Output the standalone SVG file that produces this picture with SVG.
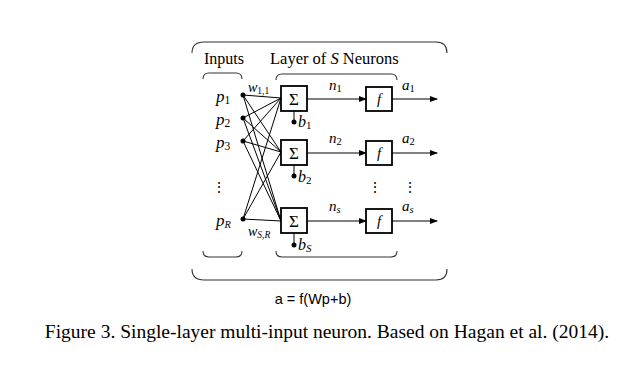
<svg xmlns="http://www.w3.org/2000/svg" width="634" height="374" viewBox="0 0 634 374">
<style>
.t{font-family:"Liberation Serif",serif;fill:#000}
.i{font-style:italic}
.u{font-style:normal}
.box{fill:#fff;stroke:#000;stroke-width:1.8}
.ln{stroke:#000;stroke-width:1;fill:none}
.br{stroke:#333;stroke-width:1.1;fill:none}
.dot{fill:#000}
</style>
<defs>
<marker id="ah" markerWidth="8" markerHeight="6" refX="7" refY="3" orient="auto" markerUnits="userSpaceOnUse">
<path d="M0,0 L8,3 L0,6 Z" fill="#000"/>
</marker>
</defs>
<rect width="634" height="374" fill="#fff"/>
<g id="braces">
<path class="br" d="M192,53 Q192,42 204,42 L436,42 Q447,42 447,53"/>
<path class="br" d="M192,269 Q192,280 204,280 L436,280 Q447,280 447,269"/>
<path class="br" d="M203,79 Q203,73 209,73 L236,73 Q242,73 242,79"/>
<path class="br" d="M276,80 Q276,74 282,74 L391,74 Q397,74 397,80"/>
<path class="br" d="M203,251 Q203,257 209,257 L236,257 Q242,257 242,251"/>
<path class="br" d="M276,251 Q276,257 282,257 L391,257 Q397,257 397,251"/>
</g>
<g id="titles">
<text class="t" x="204" y="64" font-size="16">Inputs</text>
<text class="t" x="270" y="64" font-size="16.5">Layer of <tspan class="i">S</tspan> Neurons</text>
</g>
<g id="connectors">
<g class="ln">
<line x1="243" y1="95" x2="281" y2="98"/>
<line x1="243" y1="95" x2="281" y2="152"/>
<line x1="243" y1="95" x2="281" y2="221"/>
<line x1="243" y1="118" x2="281" y2="98"/>
<line x1="243" y1="118" x2="281" y2="152"/>
<line x1="243" y1="118" x2="281" y2="221"/>
<line x1="243" y1="141" x2="281" y2="98"/>
<line x1="243" y1="141" x2="281" y2="152"/>
<line x1="243" y1="141" x2="281" y2="221"/>
<line x1="243" y1="219" x2="281" y2="98"/>
<line x1="243" y1="219" x2="281" y2="152"/>
<line x1="243" y1="219" x2="281" y2="221"/>
<line x1="294" y1="111" x2="294" y2="122"/>
<line x1="294" y1="165" x2="294" y2="176"/>
<line x1="294" y1="233" x2="294" y2="245"/>
<line x1="307" y1="99" x2="366" y2="99" marker-end="url(#ah)"/>
<line x1="307" y1="153" x2="366" y2="153" marker-end="url(#ah)"/>
<line x1="307" y1="221" x2="366" y2="221" marker-end="url(#ah)"/>
<line x1="392" y1="99" x2="437" y2="99" marker-end="url(#ah)"/>
<line x1="392" y1="153" x2="437" y2="153" marker-end="url(#ah)"/>
<line x1="392" y1="221" x2="437" y2="221" marker-end="url(#ah)"/>
</g>
<circle class="dot" cx="294" cy="122" r="2.5"/>
<circle class="dot" cx="294" cy="176" r="2.5"/>
<circle class="dot" cx="294" cy="245" r="2.5"/>
<text class="t i" x="248" y="92" font-size="14">w<tspan class="u" font-size="9.5" dy="2">1,1</tspan></text>
<text class="t i" x="248" y="236" font-size="14">w<tspan font-size="9.5" dy="2">S,R</tspan></text>
<text class="t i" x="329" y="90" font-size="15">n<tspan class="u" font-size="10.5" dy="2">1</tspan></text>
<text class="t i" x="329" y="143" font-size="15">n<tspan class="u" font-size="10.5" dy="2">2</tspan></text>
<text class="t i" x="329" y="211" font-size="15">n<tspan font-size="10.5" dy="2">s</tspan></text>
<text class="t i" x="402" y="90" font-size="15">a<tspan class="u" font-size="10.5" dy="2">1</tspan></text>
<text class="t i" x="402" y="143" font-size="15">a<tspan class="u" font-size="10.5" dy="2">2</tspan></text>
<text class="t i" x="402" y="211" font-size="15">a<tspan font-size="10.5" dy="2">s</tspan></text>
<text class="t i" x="298" y="127" font-size="16">b<tspan class="u" font-size="11" dy="2">1</tspan></text>
<text class="t i" x="298" y="182" font-size="16">b<tspan class="u" font-size="11" dy="2">2</tspan></text>
<text class="t i" x="298" y="250" font-size="16">b<tspan font-size="11" dy="2">S</tspan></text>
</g>
<g id="inputs">
<circle class="dot" cx="243" cy="95" r="2.5"/>
<circle class="dot" cx="243" cy="118" r="2.5"/>
<circle class="dot" cx="243" cy="141" r="2.5"/>
<circle class="dot" cx="243" cy="219" r="2.5"/>
<text class="t i" x="216" y="102" font-size="17">p<tspan class="u" font-size="11.5" dy="2">1</tspan></text>
<text class="t i" x="216" y="125" font-size="17">p<tspan class="u" font-size="11.5" dy="2">2</tspan></text>
<text class="t i" x="216" y="148" font-size="17">p<tspan class="u" font-size="11.5" dy="2">3</tspan></text>
<text class="t i" x="216" y="226" font-size="17">p<tspan font-size="10.5" dy="2">R</tspan></text>
<text class="t" x="219" y="192" font-size="14" text-anchor="middle">⋮</text>
</g>
<g id="sum1"><rect class="box" x="281" y="86" width="26" height="25"/><text class="t" x="294" y="105" font-size="17" text-anchor="middle">Σ</text></g>
<g id="sum2"><rect class="box" x="281" y="140" width="26" height="25"/><text class="t" x="294" y="159" font-size="17" text-anchor="middle">Σ</text></g>
<g id="sumS"><rect class="box" x="281" y="208" width="26" height="25"/><text class="t" x="294" y="227" font-size="17" text-anchor="middle">Σ</text></g>
<g id="f1"><rect class="box" x="366" y="87" width="26" height="24"/><text class="t i" x="379" y="104" font-size="15" text-anchor="middle">f</text></g>
<g id="f2"><rect class="box" x="366" y="141" width="26" height="24"/><text class="t i" x="379" y="158" font-size="15" text-anchor="middle">f</text></g>
<g id="fS"><rect class="box" x="366" y="209" width="26" height="24"/><text class="t i" x="379" y="226" font-size="15" text-anchor="middle">f</text></g>
<g id="dots">
<text class="t" x="375" y="192" font-size="14" text-anchor="middle">⋮</text>
<text class="t" x="410" y="192" font-size="14" text-anchor="middle">⋮</text>
</g>
<g id="formula">
<text x="313" y="304" font-family="Liberation Sans, sans-serif" font-size="14.5" text-anchor="middle">a = f(Wp+b)</text>
</g>
<g id="caption">
<text class="t" x="327" y="338" font-size="19.5" text-anchor="middle">Figure 3. Single-layer multi-input neuron. Based on Hagan et al. (2014).</text>
</g>
</svg>
